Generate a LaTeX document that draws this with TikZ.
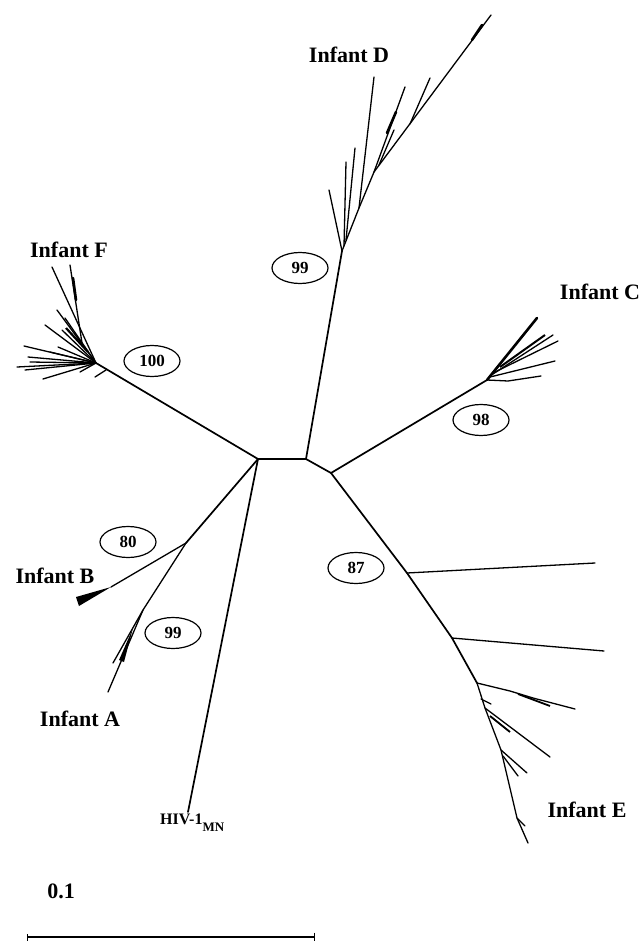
\documentclass[tikz,border=0pt]{standalone}
\usepackage{fontspec}
\setmainfont{Liberation Serif}
\usetikzlibrary{shapes.geometric, arrows.meta}

\tikzset{
  stem/.style={line width=1.7pt, line cap=round},
  twig/.style={line width=1.3pt, line cap=round},
  fat/.style={line width=2.6pt, line cap=round},
  boot/.style={draw, ellipse, line width=1.2pt, minimum width=56pt, minimum height=31pt, inner sep=0pt, font=\bfseries\fontsize{17}{19}\selectfont},
  infant/.style={font=\bfseries\fontsize{22}{24}\selectfont, inner sep=0pt},
}

\begin{document}
\begin{tikzpicture}[x=1pt, y=-1pt]
  \useasboundingbox (0,0) rectangle (642,941);
  % inner nodes of the tree
  \coordinate (L) at (258,459);
  \coordinate (R) at (306,459);
  \coordinate (J) at (331,473);
  \coordinate (nD) at (342,251);
  \coordinate (nC) at (487,380);
  \coordinate (nF) at (96,363);
  \coordinate (nAB) at (186,543);
  \coordinate (nE) at (407,573);
  \coordinate (hiv) at (188,812);
  \draw[stem] (nF) -- (L) -- (R) -- (J) -- (nC);
  \draw[stem] (R) -- (nD);
  \draw[stem] (L) -- (nAB);
  \draw[stem] (L) -- (hiv);

  % Infant D
  \coordinate (d1) at (359,208);
  \coordinate (d2) at (374,172);
  \coordinate (d3) at (379,165);
  \coordinate (d4) at (410,124);
  \coordinate (dtip) at (491,15);
  \draw[twig] (nD) -- (d1) -- (d2) -- (dtip);
  \foreach \ax/\ay/\bx/\by [count=\i] in {342/251/329/190, 344/246/346/162, 346/240/355/148,
      359/208/374/77, 374/172/405/87, 379/165/394/130, 410/124/430/78}
    {\coordinate (db\i) at (\ax,\ay); \coordinate (dl\i) at (\bx,\by); \draw[twig] (db\i) -- (dl\i);}
  \draw[fat] (387,133) -- (396,112);
  \draw[fat] (472,40) -- (482,25);

  % Infant C
  \draw[fat] (nC) -- (537,318);
  \foreach \ax/\ay/\bx/\by [count=\i] in {493/374/553/335, 495/372/558/341, 490/377/555/361}
    {\coordinate (cb\i) at (\ax,\ay); \coordinate (cl\i) at (\bx,\by); \draw[twig] (cb\i) -- (cl\i);}
  \draw[line width=2pt] (500,367) -- (545,335);
  \coordinate (c4) at (508,381);
  \coordinate (cl4) at (541,376);
  \draw[twig] (nC) -- (c4) -- (cl4);

  % Infant F
  \foreach \bx/\by [count=\i] in {52/267, 57/310, 45/325, 24/346, 28/357, 17/367,
      30/362, 25/370, 43/379, 58/347, 65/318, 80/372, 62/330, 50/352}
    {\coordinate (fl\i) at (\bx,\by); \draw[twig] (nF) -- (fl\i);}
  \coordinate (f0) at (82,343);
  \coordinate (fl0) at (70,265);
  \draw[twig] (f0) -- (fl0);
  \draw[fat] (73,278) -- (76,300);
  \draw[line width=2.2pt] (88,352) -- (66,328);
  \draw[twig] (106,370) -- (95,377);

  % Infant B and Infant A
  \coordinate (b1) at (111,587);
  \draw[twig] (nAB) -- (b1);
  \fill (b1) -- (76,597) -- (79,606) -- cycle;
  \coordinate (a1) at (143,610);
  \coordinate (atip) at (108,692);
  \coordinate (a2) at (113,663);
  \draw[twig] (nAB) -- (a1) -- (atip);
  \draw[twig] (a1) -- (a2);
  \fill (133,628) -- (119,660) -- (124,662) -- cycle;

  % Infant E
  \coordinate (e1) at (452,638);
  \coordinate (e2) at (477,683);
  \coordinate (e3) at (485,708);
  \coordinate (e4) at (501,750);
  \coordinate (e5) at (517,818);
  \coordinate (etip) at (528,843);
  \draw[stem] (J) -- (nE) -- (e1) -- (e2);
  \draw[twig] (e2) -- (e3) -- (e4) -- (e5) -- (etip);
  \coordinate (el1) at (595,563);
  \coordinate (el2) at (604,651);
  \draw[twig] (nE) -- (el1);
  \draw[twig] (e1) -- (el2);
  \draw[twig] (e2) -- (510,691) -- (533,698) -- (575,709);
  \draw[line width=1.8pt] (518,694) -- (550,706);
  \draw[twig] (481,699) -- (491,704);
  \draw[twig] (e3) -- (550,757);
  \draw[line width=1.8pt] (490,716) -- (510,732);
  \draw[twig] (e4) -- (527,773);
  \draw[twig] (503,756) -- (518,776);
  \draw[twig] (e5) -- (525,826);

  % bootstrap values
  \node[boot] (bD) at (300,268) {99};
  \node[boot] (bF) at (152,361) {100};
  \node[boot] (bC) at (481,420) {98};
  \node[boot] (bB) at (128,542) {80};
  \node[boot] (bE) at (356,568) {87};
  \node[boot] (bA) at (173,633) {99};

  % labels
  \node[infant] (tD) at (349,55) {Infant D};
  \node[infant] (tC) at (600,292) {Infant C};
  \node[infant] (tF) at (69,250) {Infant F};
  \node[infant] (tB) at (55,576) {Infant B};
  \node[infant] (tA) at (80,719) {Infant A};
  \node[infant] (tE) at (587,810) {Infant E};
  \node[font=\bfseries\fontsize{16}{18}\selectfont, inner sep=0pt, anchor=west] (tH) at (160,823)
    {HIV-1\raisebox{-7pt}{\fontsize{13}{14}\selectfont MN}};

  % scale bar
  \node[infant] (tS) at (61,891) {0.1};
  \coordinate (sbL) at (27,937);
  \coordinate (sbR) at (315,937);
  \draw[line width=1.3pt, {Bar[width=7pt]}-{Bar[width=9pt]}] (sbL) -- (sbR);
\end{tikzpicture}
\end{document}
